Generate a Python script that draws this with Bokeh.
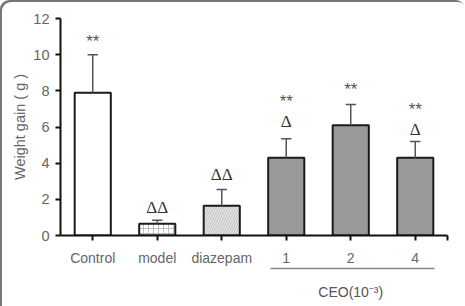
from bokeh.plotting import figure
from bokeh.models import FixedTicker, LinearAxis, Range1d
from bokeh.core.properties import value
from bokeh.embed import file_html
from bokeh.resources import INLINE

groups = ["Control", "model", "diazepam", "1", "2", "4"]
means = [7.9, 0.65, 1.65, 4.3, 6.1, 4.3]
errors = [2.1, 0.2, 0.9, 1.05, 1.15, 0.9]
stars = ["**", "", "", "**", "**", "**"]
star_y = [10.75, 0, 0, 7.4, 8.1, 6.95]
deltas = ["", "ΔΔ", "ΔΔ", "Δ", "", "Δ"]
delta_y = [0, 1.55, 3.4, 6.3, 0, 5.85]
fills = ["white", "white", "#e6e6e6", "#999999", "#999999", "#999999"]
hatches = [" ", "+", "/", " ", " ", " "]
yticks = [0, 2, 4, 6, 8, 10, 12]
group_label = "CEO(10⁻³)"
group_span = (3.25, 5.8)

x = [i + 0.5 for i in range(len(groups))]

p = figure(width=465, height=306, output_backend="svg", toolbar_location=None,
           x_range=Range1d(0, 6), y_range=Range1d(0, 12),
           min_border_left=60, min_border_right=18, min_border_top=18, min_border_bottom=15)
p.outline_line_color = None
p.xgrid.visible = False
p.ygrid.visible = False
p.background_fill_color = "white"
p.border_fill_color = None
p.styles = {"box-shadow": "inset 2px 2px 0 0 #777777", "border-radius": "9px 9px 0 0",
            "background-color": "white"}

p.vbar(x=x, top=means, width=0.56, fill_color=fills, line_color="#1a1a1a", line_width=2,
       hatch_pattern=hatches, hatch_color="#bdbdbd", hatch_scale=5, hatch_weight=1)

tops = [m + e for m, e in zip(means, errors)]
p.segment(x0=x, y0=means, x1=x, y1=tops, line_color="#555555", line_width=1.5)
p.segment(x0=[v - 0.08 for v in x], y0=tops, x1=[v + 0.08 for v in x], y1=tops,
          line_color="#555555", line_width=1.5)

sx = [x[i] for i in range(6) if stars[i]]
sy = [star_y[i] for i in range(6) if stars[i]]
st = [stars[i] for i in range(6) if stars[i]]
p.text(x=sx, y=sy, text=st, text_align="center", text_baseline="middle",
       text_font=value("Liberation Sans"), text_font_size="17px", text_color="#555555")
dx = [x[i] for i in range(6) if deltas[i]]
dy = [delta_y[i] for i in range(6) if deltas[i]]
dt = [deltas[i] for i in range(6) if deltas[i]]
p.text(x=dx, y=dy, text=dt, text_align="center", text_baseline="middle",
       text_font=value("Liberation Serif"), text_font_size="17px", text_color="#333333")

p.xaxis.ticker = FixedTicker(ticks=x + [6.0])
overrides = {v: g for v, g in zip(x, groups)}
overrides[6.0] = ""
p.xaxis.major_label_overrides = overrides
p.yaxis.ticker = FixedTicker(ticks=yticks)
for ax in (p.xaxis, p.yaxis):
    ax.axis_line_width = 2
    ax.axis_line_color = "#111111"
    ax.major_tick_line_width = 2
    ax.major_tick_line_color = "#111111"
    ax.major_tick_out = 5
    ax.major_tick_in = 0
    ax.minor_tick_line_color = None
    ax.major_label_text_font = "Liberation Sans"
    ax.major_label_text_color = "#666666"
p.xaxis.major_label_text_font_size = "14px"
p.yaxis.major_label_text_font_size = "14.5px"
p.xaxis.major_label_standoff = 9
p.yaxis.major_label_standoff = 6
p.yaxis.axis_label = "Weight gain ( g )"
p.yaxis.axis_label_text_font = "Liberation Sans"
p.yaxis.axis_label_text_font_size = "14.5px"
p.yaxis.axis_label_text_font_style = "normal"
p.yaxis.axis_label_text_color = "#666666"
p.yaxis.axis_label_standoff = 2

grp_axis = LinearAxis(bounds=group_span, ticker=FixedTicker(ticks=[4.5]),
                      major_label_overrides={4.5: group_label})
grp_axis.axis_line_color = "#888888"
grp_axis.axis_line_width = 1.5
grp_axis.major_tick_line_color = None
grp_axis.minor_tick_line_color = None
grp_axis.major_tick_out = 0
grp_axis.major_tick_in = 0
grp_axis.major_label_standoff = 15
grp_axis.major_label_text_font = "Liberation Sans"
grp_axis.major_label_text_font_size = "14px"
grp_axis.major_label_text_color = "#555555"
grp_axis.axis_label = " "
grp_axis.axis_label_text_font_size = "1px"
grp_axis.axis_label_standoff = 0
p.add_layout(grp_axis, "below")

open("out.html", "w").write(file_html(p, INLINE))
